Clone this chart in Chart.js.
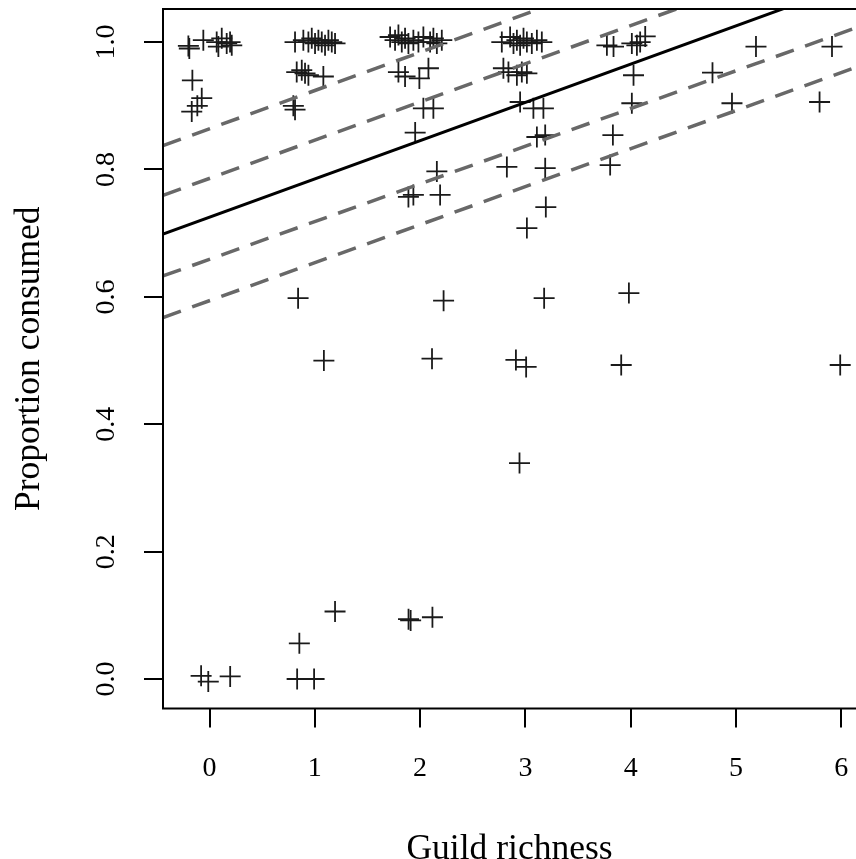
<!DOCTYPE html>
<html><head><meta charset="utf-8">
<script src="https://cdn.jsdelivr.net/npm/chart.js@4"></script>
<style>html,body{margin:0;padding:0;background:#fff}canvas{display:block}</style>
</head><body>
<canvas id="c" width="856" height="859"></canvas>
<script>
// ---- data ----
const guildRichness = [
  // richness 0
  -0.201,-0.192,-0.059,0.068,0.116,0.163,0.195,0.211,0.084,-0.163,-0.074,-0.116,-0.169,-0.080,-0.012,0.196,
  // richness 1
  0.812,0.891,0.939,0.971,1.002,1.034,1.066,1.097,1.129,1.161,1.192,
  0.828,0.876,0.907,0.939,1.081,0.796,0.812,0.841,1.086,0.853,0.832,0.993,1.192,
  // richness 2
  1.715,1.762,1.794,1.826,1.857,1.889,1.936,1.984,2.031,2.095,2.126,2.159,2.206,
  1.794,1.857,1.993,2.079,2.031,2.126,1.953,2.159,1.889,1.936,2.190,2.223,2.113,1.890,1.910,2.117,
  // richness 3
  2.776,2.855,2.887,2.919,2.950,2.982,3.014,3.061,3.109,3.156,
  2.791,2.839,2.919,2.966,3.014,2.950,3.076,3.171,3.109,3.188,2.824,3.188,3.194,3.014,
  3.178,2.910,3.007,2.944,
  // richness 4
  3.774,3.837,4.011,4.059,4.090,4.138,4.027,4.011,3.831,3.805,3.983,3.910,
  // richness 5
  4.777,4.962,5.190,
  // richness 6
  5.912,5.794,5.990
];
const proportionConsumed = [
  0.994,0.990,1.003,1.000,1.006,0.998,1.000,0.995,0.993,0.940,0.912,0.900,0.891,0.005,-0.004,0.004,
  1.000,1.003,1.000,1.006,0.998,1.003,1.000,0.995,1.003,1.000,0.998,
  0.953,0.956,0.951,0.948,0.946,0.900,0.894,0.598,0.500,0.056,0.000,0.000,0.106,
  1.008,1.003,1.011,1.000,1.006,0.998,1.003,1.000,1.008,1.000,1.006,0.998,1.003,
  0.953,0.946,0.943,0.959,0.896,0.896,0.858,0.797,0.757,0.760,0.760,0.594,0.503,0.094,0.092,0.097,
  1.000,1.008,0.998,1.003,0.995,1.006,1.000,0.998,1.003,1.000,
  0.959,0.953,0.948,0.953,0.951,0.906,0.896,0.896,0.851,0.854,0.804,0.802,0.741,0.708,
  0.598,0.501,0.490,0.339,
  0.995,0.993,0.998,0.995,1.000,1.009,0.948,0.904,0.854,0.807,0.606,0.493,
  0.952,0.904,0.993,
  0.993,0.906,0.493
];
const xTickValues = [0,1,2,3,4,5,6];
const yTickValues = [0.0,0.2,0.4,0.6,0.8,1.0];
// fitted line and bands: intercept & slope
const lineIntercepts = [0.864,0.786,0.725,0.659,0.594];
const lineSlopes     = [0.0600,0.0600,0.0601,0.0592,0.0597];
const lineKinds      = ['dashed','dashed','solid','dashed','dashed'];
const xAxisTitle = 'Guild richness';
const yAxisTitle = 'Proportion consumed';
const X_MIN = -0.442, X_MAX = 6.14, Y_MIN = -0.0463, Y_MAX = 1.052;

// ---- chart ----
const FONT = 'Liberation Serif, Times New Roman, serif';
const points = guildRichness.map((x,i)=>({x:x, y:proportionConsumed[i]}));
const lineSets = lineIntercepts.map((b,i)=>({
  type:'line',
  data:[{x:X_MIN,y:b+lineSlopes[i]*X_MIN},{x:X_MAX,y:b+lineSlopes[i]*X_MAX}],
  borderColor: lineKinds[i]==='solid' ? '#000000' : '#686868',
  borderWidth: lineKinds[i]==='solid' ? 3 : 3.5,
  borderDash: lineKinds[i]==='solid' ? [] : [19,12],
  borderCapStyle:'butt',
  pointRadius:0, fill:false, tension:0
}));
const boxPlugin = {
  id:'box',
  afterDatasetsDraw(chart){
    const {ctx, chartArea:a} = chart;
    ctx.save();
    ctx.strokeStyle = '#000'; ctx.lineWidth = 2;
    ctx.strokeRect(a.left, a.top, a.right - a.left + 20, a.bottom - a.top);
    ctx.restore();
  }
};
const gridOpts = {display:true, drawOnChartArea:false, drawTicks:true, tickLength:19, color:'#000', lineWidth:2};
new Chart(document.getElementById('c'), {
  data:{
    datasets:[...lineSets, {
      type:'scatter', data:points,
      pointStyle:'cross', pointRadius:10.5, pointHoverRadius:10.5,
      borderColor:'#1a1a1a', backgroundColor:'#1a1a1a', borderWidth:1.8
    }]
  },
  options:{
    responsive:false, animation:false, devicePixelRatio:1,
    layout:{autoPadding:false, padding:{top:9,left:0,right:0,bottom:0}},
    plugins:{legend:{display:false}, tooltip:{enabled:false}},
    events:[],
    scales:{
      x:{
        type:'linear', min:X_MIN, max:X_MAX,
        afterBuildTicks: s => { s.ticks = xTickValues.map(v=>({value:v})); },
        ticks:{callback:v=>String(v), font:{family:FONT,size:28}, color:'#000', padding:24, maxRotation:0, minRotation:0, autoSkip:false},
        grid:gridOpts, border:{display:false},
        title:{display:true, text:xAxisTitle, color:'#000', font:{family:FONT,size:35.5,lineHeight:1}, padding:{top:0,bottom:-8}},
        afterFit: s => { s.height = 150.5; s.paddingLeft = 0; s.paddingRight = 0; }
      },
      y:{
        type:'linear', min:Y_MIN, max:Y_MAX,
        afterBuildTicks: s => { s.ticks = yTickValues.map(v=>({value:v})); },
        ticks:{callback:v=>Number(v).toFixed(1), font:{family:FONT,size:28}, color:'#000', padding:20, minRotation:90, maxRotation:90, crossAlign:'center', autoSkip:false},
        grid:gridOpts, border:{display:false},
        title:{display:true, text:yAxisTitle, color:'#000', font:{family:FONT,size:35.5,lineHeight:1}, padding:{top:12,bottom:0}},
        afterFit: s => { s.width = 163; s.paddingTop = 0; s.paddingBottom = 0; }
      }
    }
  },
  plugins:[boxPlugin]
});
</script>
</body></html>
